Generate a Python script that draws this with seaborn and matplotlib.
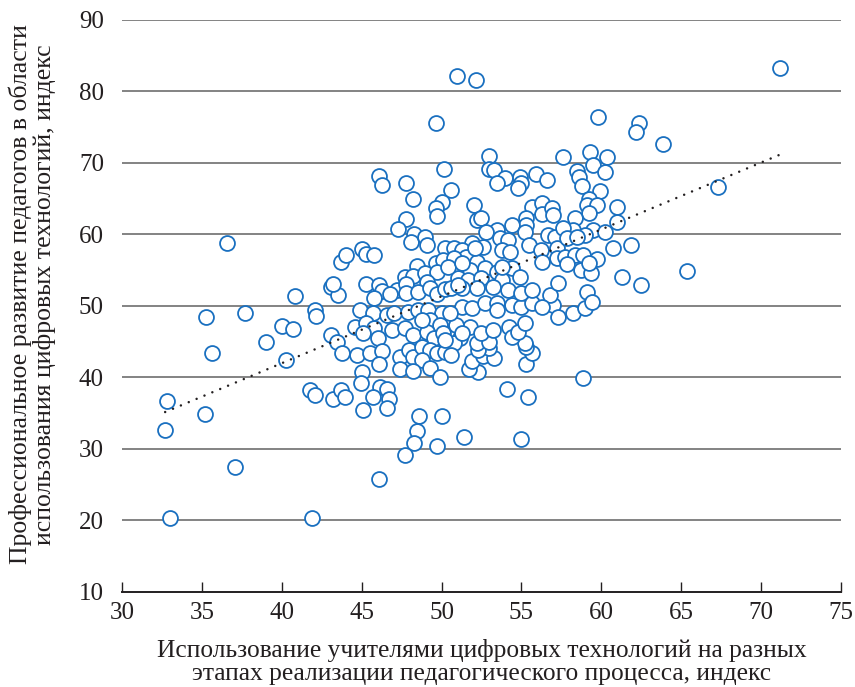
import numpy as np
import pandas as pd
import matplotlib
matplotlib.use("Agg")
import matplotlib.pyplot as plt
import seaborn as sns

# Teacher-level indices: use of digital tools (x) vs. professional development (y)
usage_index = [
    36.57, 35.26, 37.7, 35.63, 32.8, 32.7, 35.2, 37.07, 33.0, 41.9,
    40.83, 40.0, 40.7, 39.0, 40.26, 41.76, 42.1, 43.2, 43.7, 42.1,
    42.15, 43.1, 43.5, 43.7, 43.1, 43.45, 43.8,
    46.08, 46.27, 47.77, 48.2, 50.15, 50.6, 50.0, 49.65, 49.7, 47.8,
    47.3, 48.3, 48.1, 48.96, 49.1, 45.0, 44.0, 45.3, 45.77, 50.2,
    48.46, 49.65, 50.1, 47.7, 48.2, 48.96, 49.7, 49.1, 43.2, 45.3,
    46.1, 46.3, 47.2, 47.8, 47.8, 48.5, 49.3, 49.7, 46.8, 45.8, 50.2,
    44.9, 45.7, 46.6, 47.0, 47.9, 48.5, 49.15, 50.0, 49.3, 49.9,
    44.6, 45.3, 45.8, 45.1, 46.9, 47.7, 48.2, 49.1, 49.5, 50.1,
    46.0, 44.7, 45.5, 46.3, 46.1, 47.4, 47.96, 48.2, 48.8, 49.3,
    49.7, 50.2, 48.8, 49.3, 49.9, 47.4, 48.2, 45.0, 44.96, 43.95,
    46.15, 46.6, 45.7, 46.7, 45.1, 46.6, 48.6, 50.0, 48.46, 48.3,
    49.7, 47.7, 46.1, 51.4, 55.0,
    54.1, 55.4, 52.3, 51.7, 51.9, 52.6, 53.3, 55.3, 55.65, 55.3,
    55.2, 53.0, 52.3, 52.2, 53.0, 51.8, 52.5, 53.2, 51.15, 50.8,
    50.6, 50.9, 54.2, 54.4, 54.8, 55.2, 51.3, 51.9, 52.7, 53.5,
    53.5, 54.4, 55.0, 55.65, 57.0, 57.3, 50.5,
    53.0, 52.97, 53.3, 53.97, 53.5, 54.9, 55.0, 54.8, 55.9, 56.6,
    57.6, 52.0, 52.2, 52.5, 55.65, 56.3, 56.3, 56.9, 57.0, 55.3,
    55.3, 54.4, 53.5, 52.8, 55.2, 56.65, 57.1, 51.9, 52.6, 53.65,
    54.15, 53.8, 54.3, 55.5, 56.2, 56.3, 57.2, 57.2, 50.8, 51.3,
    51.5, 50.8, 52.2, 51.8, 52.7, 53.5, 54.4, 51.0, 51.65, 52.5,
    53.8, 54.9, 51.3, 52.2, 53.2, 54.15, 55.0, 55.65, 56.8, 57.3, 50.6,
    52.1, 50.4, 51.3, 53.8, 51.0, 56.3, 48.8, 51.3, 50.2,
    59.8, 62.35, 62.2, 63.85, 59.3, 60.35, 59.5, 60.2, 58.5, 58.6,
    58.8, 59.9, 59.2, 59.1, 59.7, 59.2, 61.0, 61.0, 58.35, 58.2,
    59.5, 60.2, 57.6, 57.85, 59.0, 58.5, 60.7, 61.85, 57.7, 58.35,
    58.85, 59.7, 57.85, 58.7, 59.35, 59.2, 61.3, 62.5, 59.1,
    58.85, 58.2, 59.0, 59.4,
    71.2, 67.3, 65.35, 50.96, 52.15, 49.65,
]
development_index = [
    58.8, 48.5, 49.0, 43.4, 36.7, 32.7, 34.9, 27.5, 20.35, 20.35,
    51.4, 47.2, 46.8, 45.0, 42.45, 38.25, 37.6, 37.0, 38.2, 49.5,
    48.6, 52.7, 51.6, 56.2, 45.9, 45.0, 43.4,
    68.2, 66.9, 67.2, 65.0, 69.2, 66.2, 64.5, 63.7, 62.6, 62.2,
    60.8, 60.1, 59.0, 59.65, 58.5, 58.0, 57.1, 57.3, 57.1, 58.1,
    55.6, 56.0, 56.4, 54.05, 54.2, 54.6, 54.75, 53.4, 53.1, 53.1,
    52.9, 52.1, 52.2, 53.1, 51.8, 52.0, 52.5, 51.7, 51.7, 51.1, 52.4,
    49.4, 49.0, 48.7, 49.0, 49.2, 49.4, 49.4, 49.0, 48.0, 47.35,
    47.1, 47.6, 46.9, 46.2, 46.6, 46.9, 45.9, 46.4, 45.5, 46.2,
    45.5, 43.1, 43.4, 43.7, 41.9, 42.9, 43.85, 42.9, 44.3, 43.85,
    43.4, 43.6, 42.45, 41.3, 40.1, 41.2, 40.9, 40.8, 39.2, 37.3,
    38.7, 38.4, 37.3, 37.0, 35.5, 35.7, 34.6, 34.6, 32.5, 30.8,
    30.4, 29.2, 25.8, 31.7, 31.4,
    38.4, 37.3, 40.8, 41.2, 42.3, 43.0, 42.7, 41.9, 43.4, 44.3,
    44.8, 44.1, 43.85, 44.8, 45.0, 47.1, 46.2, 46.6, 45.5, 44.8,
    43.1, 47.3, 47.1, 45.7, 46.4, 47.6, 49.9, 49.7, 50.4, 50.4,
    49.4, 50.1, 49.9, 50.4, 50.1, 48.5, 49.0,
    71.0, 69.2, 69.0, 67.9, 67.2, 68.0, 67.2, 66.5, 68.5, 67.6,
    70.9, 64.1, 62.0, 62.3, 63.85, 64.4, 62.9, 63.7, 62.7, 62.3,
    61.3, 61.3, 60.6, 60.4, 60.4, 59.9, 59.65, 58.8, 58.3, 59.5,
    59.2, 57.8, 57.55, 58.5, 57.8, 56.2, 58.1, 56.7, 58.1, 57.8,
    56.9, 56.7, 56.2, 55.0, 55.3, 54.75, 55.3, 53.9, 53.6, 53.9,
    53.6, 54.05, 52.5, 52.5, 52.7, 52.2, 51.8, 52.2, 51.5, 53.2, 52.5,
    58.1, 55.5, 56.0, 55.5, 52.9, 49.9, 48.0, 46.2, 45.2,
    76.4, 75.6, 74.3, 72.7, 71.5, 70.8, 69.7, 68.7, 68.9, 68.0,
    66.8, 66.1, 65.0, 64.1, 64.1, 63.0, 63.85, 61.75, 62.3, 60.6,
    60.6, 60.35, 60.9, 59.5, 59.9, 59.65, 58.1, 58.5, 56.85, 57.1,
    57.1, 56.6, 55.9, 55.0, 54.6, 56.0, 54.05, 52.9, 52.0,
    39.9, 49.0, 49.7, 50.6,
    83.3, 66.6, 54.9, 82.2, 81.6, 75.6,
]

x_ticks = [30, 35, 40, 45, 50, 55, 60, 65, 70, 75]
y_ticks = [10, 20, 30, 40, 50, 60, 70, 80, 90]

x_label = ("Использование учителями цифровых технологий на разных\n"
           "этапах реализации педагогического процесса, индекс")
y_label = ("Профессиональное развитие педагогов в области\n"
           "использования цифровых технологий, индекс")

df = pd.DataFrame({"usage": usage_index, "development": development_index})

sns.set_theme(style="white")
plt.rcParams["font.family"] = ["Liberation Serif", "DejaVu Serif"]

fig = plt.figure(figsize=(8.55, 6.87), dpi=100)
ax = fig.add_axes([0.1427, 0.1383, 0.8409, 0.8326])

blue = "#1a70c0"
ink = "#231f20"
sns.scatterplot(data=df, x="usage", y="development", ax=ax,
                s=115, facecolor="white", edgecolor=blue, linewidth=1.3,
                zorder=3, legend=False)
sns.regplot(data=df, x="usage", y="development", ax=ax, scatter=False,
            ci=None, truncate=True,
            line_kws=dict(color=ink, linestyle=(0, (0.01, 3.4)),
                          linewidth=1.8, dash_capstyle="round", zorder=4))

ax.set_xlim(30, 75)
ax.set_ylim(10, 90)
ax.set_xticks(x_ticks)
ax.set_yticks(y_ticks)
ax.set_xticklabels([str(v) for v in x_ticks], fontsize=18)
ax.set_yticklabels([str(v) for v in y_ticks], fontsize=18)

for v in y_ticks[1:]:
    ax.axhline(v, color="#7a7a7a", linewidth=1.3, zorder=1)

for side in ("left", "right", "top"):
    ax.spines[side].set_visible(False)
ax.spines["bottom"].set_color(ink)
ax.spines["bottom"].set_linewidth(1.4)

ax.tick_params(axis="x", direction="in", length=7, width=1.0,
               colors=ink, pad=7, bottom=True)
ax.tick_params(axis="y", length=0, pad=13, colors=ink)

ax.set_xlabel(x_label, fontsize=18.4, color=ink, linespacing=1.05)
ax.xaxis.set_label_coords(0.5, -0.083)
ax.set_ylabel(y_label, fontsize=18.5, color=ink, linespacing=1.05)
ax.yaxis.set_label_coords(-0.092, 0.52)

fig.savefig("out.png", dpi=100)
